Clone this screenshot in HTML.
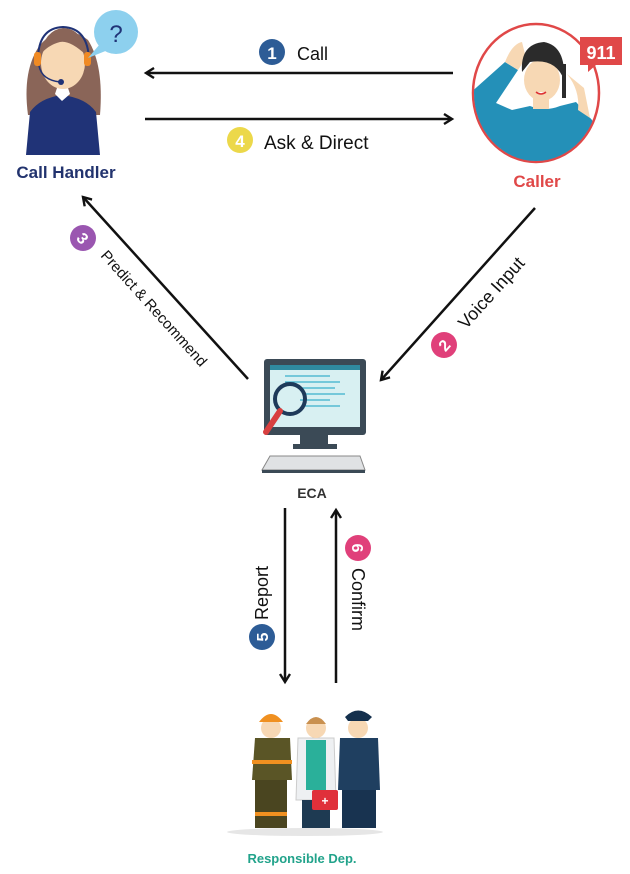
<!DOCTYPE html>
<html><head><meta charset="utf-8"><style>
body{margin:0;background:#fff;width:630px;height:874px;overflow:hidden}
svg{display:block}
text{font-family:"Liberation Sans",sans-serif}
</style></head><body>
<svg width="630" height="874" viewBox="0 0 630 874" xmlns="http://www.w3.org/2000/svg">
<defs>
<marker id="ah" markerWidth="12" markerHeight="12" refX="9" refY="6" orient="auto" markerUnits="userSpaceOnUse">
<path d="M1,1 L9,6 L1,11" fill="none" stroke="#111" stroke-width="2.4"/>
</marker>
</defs>

<!-- Call handler -->
<path d="M28,115 Q22,70 40,45 Q62,20 88,40 Q104,65 100,115 Z" fill="#8a6558"/>
<path d="M26,155 L30,112 Q40,98 62,95 Q86,98 96,112 L100,155 Z" fill="#203377"/>
<path d="M55,94 L62,101 L70,94 L68,88 L57,88 Z" fill="#fff"/>
<ellipse cx="63" cy="63" rx="22" ry="26" fill="#f7d8b4"/>
<path d="M40,55 Q45,30 63,28 Q82,28 86,55 Q70,40 60,42 Q48,45 40,55Z" fill="#8a6558"/>
<path d="M38,60 Q38,28 63,27 Q88,28 89,60" fill="none" stroke="#203377" stroke-width="2"/>
<rect x="34" y="52" width="7" height="14" rx="3" fill="#f08a24"/>
<rect x="84" y="52" width="7" height="14" rx="3" fill="#f08a24"/>
<path d="M39,66 Q42,80 60,82" fill="none" stroke="#203377" stroke-width="1.5"/>
<circle cx="61" cy="82" r="3" fill="#203377"/>
<circle cx="116" cy="32" r="22" fill="#8dd0ee"/>
<path d="M100,44 L88,58 L108,50Z" fill="#8dd0ee"/>
<text x="116" y="42" font-size="24" fill="#203377" text-anchor="middle">?</text>
<text x="66" y="178" font-size="17" font-weight="bold" fill="#22336e" text-anchor="middle">Call Handler</text>

<!-- Caller -->
<ellipse cx="536" cy="93" rx="63" ry="69" fill="#fff" stroke="#e04848" stroke-width="2.5"/>
<clipPath id="cc"><ellipse cx="536" cy="93" rx="62" ry="68"/></clipPath>
<g clip-path="url(#cc)">
<path d="M468,95 L505,62 L518,70 L496,103 L512,110 L530,106 Q545,112 560,106 L576,102 L592,120 L605,160 L470,170 Z" fill="#2490b8"/>
<path d="M505,62 Q512,44 522,42 L526,58 L518,70Z" fill="#f7d8b4"/>
<rect x="533" y="95" width="16" height="14" fill="#f7d8b4"/>
<ellipse cx="542" cy="80" rx="18" ry="21" fill="#f7d8b4"/>
<path d="M522,72 Q520,44 544,42 Q566,46 564,80 Q556,58 530,62Z" fill="#2b2b2b"/>
<rect x="562" y="64" width="4" height="34" fill="#2b2b2b"/>
<path d="M567,74 Q580,90 578,110 L590,118 L584,88Z" fill="#f7d8b4"/>
<path d="M536,92 Q541,96 546,92" fill="#fff" stroke="#d33" stroke-width="1.5"/>
</g>
<path d="M580,37 H622 V65 H596 L588,72 L588,65 H580 Z" fill="#e04848"/>
<text x="601" y="59" font-size="18" font-weight="bold" fill="#fff" text-anchor="middle">911</text>
<text x="537" y="187" font-size="17" font-weight="bold" fill="#e04848" text-anchor="middle">Caller</text>

<!-- arrows top -->
<line x1="453" y1="73" x2="146" y2="73" stroke="#111" stroke-width="2.5" marker-end="url(#ah)"/>
<line x1="145" y1="119" x2="452" y2="119" stroke="#111" stroke-width="2.5" marker-end="url(#ah)"/>
<circle cx="272" cy="52" r="13" fill="#2d5c96"/>
<text x="272" y="59" font-size="17" font-weight="bold" fill="#fff" text-anchor="middle">1</text>
<text x="297" y="60" font-size="18" fill="#111">Call</text>
<circle cx="240" cy="140" r="13" fill="#ecd84a"/>
<text x="240" y="147" font-size="17" font-weight="bold" fill="#fff" text-anchor="middle">4</text>
<text x="264" y="149" font-size="19" fill="#111">Ask &amp; Direct</text>

<!-- diagonals -->
<line x1="248" y1="379" x2="83" y2="197" stroke="#111" stroke-width="2.5" marker-end="url(#ah)"/>
<line x1="535" y1="208" x2="381" y2="380" stroke="#111" stroke-width="2.5" marker-end="url(#ah)"/>
<circle cx="83" cy="238" r="13" fill="#9a56b0"/>
<text x="83" y="244" font-size="16" font-weight="bold" fill="#fff" text-anchor="middle" transform="rotate(48 83 238)">3</text>
<text x="0" y="0" font-size="15" fill="#111" transform="translate(100,256) rotate(48)">Predict &amp; Recommend</text>
<circle cx="444" cy="345" r="13" fill="#e0407a"/>
<text x="444" y="351" font-size="16" font-weight="bold" fill="#fff" text-anchor="middle" transform="rotate(-48 444 345)">2</text>
<text x="0" y="0" font-size="18" fill="#111" transform="translate(466,330) rotate(-48)">Voice Input</text>

<!-- computer -->
<rect x="264" y="359" width="102" height="76" rx="3" fill="#3b4a56"/>
<rect x="270" y="365" width="90" height="62" fill="#d8f0f2"/>
<rect x="270" y="365" width="90" height="5" fill="#2f8aa0"/>
<g stroke="#3ab0cc" stroke-width="1.2">
<line x1="285" y1="376" x2="330" y2="376"/><line x1="285" y1="382" x2="340" y2="382"/>
<line x1="300" y1="388" x2="335" y2="388"/><line x1="305" y1="394" x2="345" y2="394"/>
<line x1="300" y1="400" x2="330" y2="400"/><line x1="305" y1="406" x2="340" y2="406"/>
</g>
<rect x="300" y="435" width="28" height="10" fill="#3b4a56"/>
<rect x="293" y="444" width="44" height="5" fill="#3b4a56"/>
<path d="M270,456 H360 L365,470 H262 Z" fill="#e0e2e4" stroke="#888" stroke-width="1"/>
<rect x="262" y="470" width="103" height="3" fill="#3b4a56"/>
<circle cx="290" cy="399" r="15" fill="none" stroke="#1e3a5a" stroke-width="4"/>
<line x1="280" y1="411" x2="266" y2="432" stroke="#d84040" stroke-width="6" stroke-linecap="round"/>
<text x="312" y="498" font-size="14" font-weight="bold" fill="#333" text-anchor="middle">ECA</text>

<!-- vertical arrows -->
<line x1="285" y1="508" x2="285" y2="682" stroke="#111" stroke-width="2.5" marker-end="url(#ah)"/>
<line x1="336" y1="683" x2="336" y2="510" stroke="#111" stroke-width="2.5" marker-end="url(#ah)"/>
<circle cx="262" cy="637" r="13" fill="#2d5c96"/>
<text x="262" y="643" font-size="16" font-weight="bold" fill="#fff" text-anchor="middle" transform="rotate(-90 262 637)">5</text>
<text x="0" y="0" font-size="18" fill="#111" transform="translate(268,620) rotate(-90)">Report</text>
<circle cx="358" cy="548" r="13" fill="#e0407a"/>
<text x="358" y="554" font-size="16" font-weight="bold" fill="#fff" text-anchor="middle" transform="rotate(90 358 548)">6</text>
<text x="0" y="0" font-size="18" fill="#111" transform="translate(352,568) rotate(90)">Confirm</text>

<!-- people -->
<ellipse cx="305" cy="832" rx="78" ry="4" fill="#e6e6e6"/>
<path d="M255,738 H290 L292,780 H252 Z" fill="#5a5526"/>
<rect x="255" y="780" width="32" height="48" fill="#4a4520"/>
<rect x="252" y="760" width="40" height="4" fill="#f09020"/>
<rect x="255" y="812" width="32" height="4" fill="#f09020"/>
<circle cx="271" cy="728" r="10" fill="#f7d8b4"/>
<path d="M259,722 Q271,706 283,722 Z" fill="#f09020"/>
<path d="M298,738 H334 L336,800 H296 Z" fill="#eef0f2" stroke="#ccc"/>
<rect x="306" y="740" width="20" height="50" fill="#2ab09a"/>
<rect x="302" y="800" width="28" height="28" fill="#1e3a52"/>
<circle cx="316" cy="728" r="10" fill="#f7d8b4"/>
<path d="M306,724 Q316,710 326,724Z" fill="#c9904f"/>
<rect x="312" y="790" width="26" height="20" rx="2" fill="#e0303a"/>
<text x="325" y="805" font-size="12" font-weight="bold" fill="#fff" text-anchor="middle">+</text>
<path d="M340,738 H378 L380,790 H338 Z" fill="#1f3f60"/>
<rect x="342" y="790" width="34" height="38" fill="#183350"/>
<circle cx="358" cy="728" r="10" fill="#f7d8b4"/>
<path d="M345,717 Q358,704 372,717 L368,721 H348Z" fill="#14304d"/>
<text x="302" y="863" font-size="13" font-weight="bold" fill="#22a38b" text-anchor="middle">Responsible Dep.</text>
</svg>
</body></html>
